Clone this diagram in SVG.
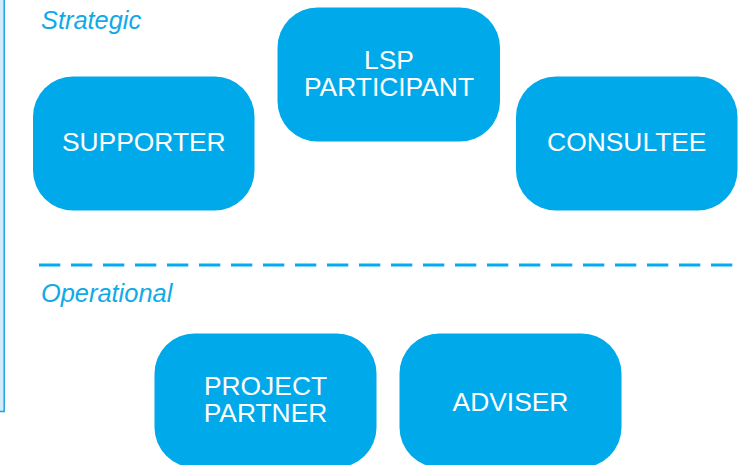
<svg xmlns="http://www.w3.org/2000/svg" width="746" height="465" viewBox="0 0 746 465">
  <style>
    .box { fill: #00A9EA; }
    .label { font-family: "Liberation Sans", Arial, sans-serif; font-size: 26.4px; fill: #ffffff; text-anchor: middle; }
    .tier { font-family: "Liberation Sans", Arial, sans-serif; font-size: 25.4px; font-style: italic; fill: #0FAAE8; }
    .divider { stroke: #00AEEF; stroke-width: 3; stroke-dasharray: 21.33 10.67; fill: none; }
  </style>

  <rect width="746" height="465" fill="#ffffff"/>

  <!-- side panel edge -->
  <rect x="-10" y="-10" width="14.2" height="421.5" fill="#D4ECF9" stroke="#1AA5E3" stroke-width="1.5"/>

  <!-- tier labels -->
  <text class="tier" x="41" y="28.5">Strategic</text>
  <text class="tier" x="41" y="301.5">Operational</text>

  <!-- tier divider -->
  <g id="connectors">
    <line class="divider" x1="39" y1="265" x2="732.4" y2="265"/>
  </g>

  <g id="supporter">
    <rect class="box" x="33" y="76.5" width="221.5" height="134" rx="40" ry="40"/>
    <text class="label" x="143.8" y="150.7">SUPPORTER</text>
  </g>

  <g id="lsp-participant">
    <rect class="box" x="277.5" y="7.5" width="222.5" height="134" rx="40" ry="40"/>
    <text class="label" x="389" y="69.3">LSP</text>
    <text class="label" x="389" y="95.7">PARTICIPANT</text>
  </g>

  <g id="consultee">
    <rect class="box" x="516" y="76.5" width="221.5" height="134" rx="40" ry="40"/>
    <text class="label" x="626.8" y="150.7">CONSULTEE</text>
  </g>

  <g id="project-partner">
    <rect class="box" x="154.5" y="333.5" width="222" height="134" rx="40" ry="40"/>
    <text class="label" x="265.5" y="395">PROJECT</text>
    <text class="label" x="265.5" y="421.7">PARTNER</text>
  </g>

  <g id="adviser">
    <rect class="box" x="399.5" y="333.5" width="222" height="134" rx="40" ry="40"/>
    <text class="label" x="510.5" y="410.7">ADVISER</text>
  </g>
</svg>
